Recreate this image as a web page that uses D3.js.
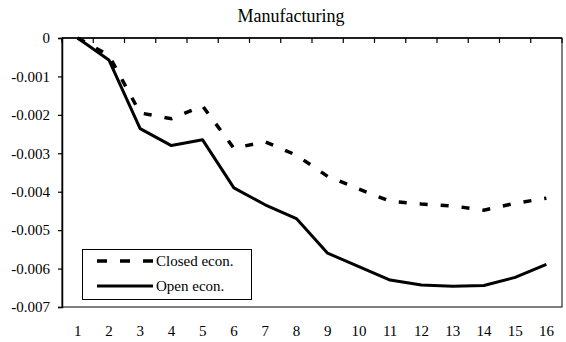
<!DOCTYPE html>
<html>
<head>
<meta charset="utf-8">
<script src="https://cdn.jsdelivr.net/npm/d3@7"></script>
<style>
  html, body { margin: 0; padding: 0; background: #fff; }
  svg { display: block; }
</style>
</head>
<body>
<svg id="chart" width="566" height="342"></svg>
<script>
// Impulse response of manufacturing, 16 periods
const periods = ["1","2","3","4","5","6","7","8","9","10","11","12","13","14","15","16"];
const closedEcon = [0, -0.00045, -0.00195, -0.0021, -0.00177, -0.00287, -0.0027, -0.00305, -0.0036, -0.00393, -0.00425, -0.00432, -0.00437, -0.00448, -0.0043, -0.00417];
const openEcon = [0, -0.00057, -0.00236, -0.0028, -0.00265, -0.0039, -0.00434, -0.0047, -0.0056, -0.00595, -0.0063, -0.00643, -0.00646, -0.00644, -0.00623, -0.00589];
const yTicks = [0, -0.001, -0.002, -0.003, -0.004, -0.005, -0.006, -0.007];
const seriesNames = ["Closed econ.", "Open econ."];
const chartTitle = "Manufacturing";

const serif = "'Liberation Serif', 'Times New Roman', Times, serif";
const svg = d3.select("#chart");
const plot = { left: 62, right: 562, top: 38, bottom: 307 };

const x = d3.scaleBand().domain(periods).range([plot.left, plot.right]).padding(0);
const y = d3.scaleLinear().domain([-0.007, 0]).range([plot.bottom, plot.top]);
const cx = p => x(p) + x.bandwidth() / 2;

// Title
svg.append("text")
  .attr("x", 291).attr("y", 22)
  .attr("text-anchor", "middle")
  .style("font-family", serif)
  .style("font-size", "18px")
  .attr("fill", "#000")
  .text(chartTitle);

// Plot frame
svg.append("rect")
  .attr("x", plot.left).attr("y", plot.top)
  .attr("width", plot.right - plot.left).attr("height", plot.bottom - plot.top)
  .attr("fill", "none").attr("stroke", "#000").attr("stroke-width", 1);

// Y axis
const yAxis = d3.axisLeft(y).tickValues(yTicks).tickSize(4).tickPadding(8)
  .tickFormat(d => d === 0 ? "0" : d3.format(".3f")(d).replace("−", "-"));
const gy = svg.append("g").attr("transform", `translate(${plot.left},0)`).call(yAxis);
gy.select(".domain").attr("stroke", "#000").attr("stroke-width", 1.5);
gy.selectAll(".tick line").attr("stroke", "#000").attr("stroke-width", 1.2);
gy.selectAll(".tick text")
  .attr("fill", "#000")
  .style("font-family", serif)
  .style("font-size", "15px");

// X axis sits at y = 0 (top); tick marks at category boundaries point inward
const boundaries = periods.map(p => x(p)).concat([plot.right]);
const gx = svg.append("g");
gx.append("line")
  .attr("x1", plot.left).attr("x2", plot.right)
  .attr("y1", y(0)).attr("y2", y(0))
  .attr("stroke", "#000").attr("stroke-width", 1.5);
gx.selectAll("line.tk").data(boundaries).join("line")
  .attr("class", "tk")
  .attr("x1", d => d).attr("x2", d => d)
  .attr("y1", y(0)).attr("y2", y(0) + 5)
  .attr("stroke", "#000").attr("stroke-width", 1.2);
// Category labels placed below the plot
svg.append("g").selectAll("text").data(periods).join("text")
  .attr("x", d => cx(d)).attr("y", 336)
  .attr("text-anchor", "middle")
  .attr("fill", "#000")
  .style("font-family", serif)
  .style("font-size", "15px")
  .text(d => d);

// Lines
const line = d3.line().x((d, i) => cx(periods[i])).y(d => y(d));
svg.append("path").datum(closedEcon)
  .attr("d", line)
  .attr("fill", "none").attr("stroke", "#000")
  .attr("stroke-width", 3.5).attr("stroke-dasharray", "8,13");
svg.append("path").datum(openEcon)
  .attr("d", line)
  .attr("fill", "none").attr("stroke", "#000")
  .attr("stroke-width", 3).attr("stroke-linejoin", "round");

// Legend
const lg = svg.append("g");
lg.append("rect")
  .attr("x", 82.5).attr("y", 249.5).attr("width", 169).attr("height", 50)
  .attr("fill", "#fff").attr("stroke", "#000").attr("stroke-width", 1);
const legendRows = [
  { name: seriesNames[0], dash: "10,13", w: 3.5, y: 261 },
  { name: seriesNames[1], dash: null, w: 3, y: 286 }
];
legendRows.forEach(r => {
  lg.append("line")
    .attr("x1", 97).attr("x2", 153).attr("y1", r.y).attr("y2", r.y)
    .attr("stroke", "#000").attr("stroke-width", r.w)
    .attr("stroke-dasharray", r.dash);
  lg.append("text")
    .attr("x", 156).attr("y", r.y + 5)
    .attr("fill", "#000")
    .style("font-family", serif)
    .style("font-size", "15px")
    .text(r.name);
});
</script>
</body>
</html>
